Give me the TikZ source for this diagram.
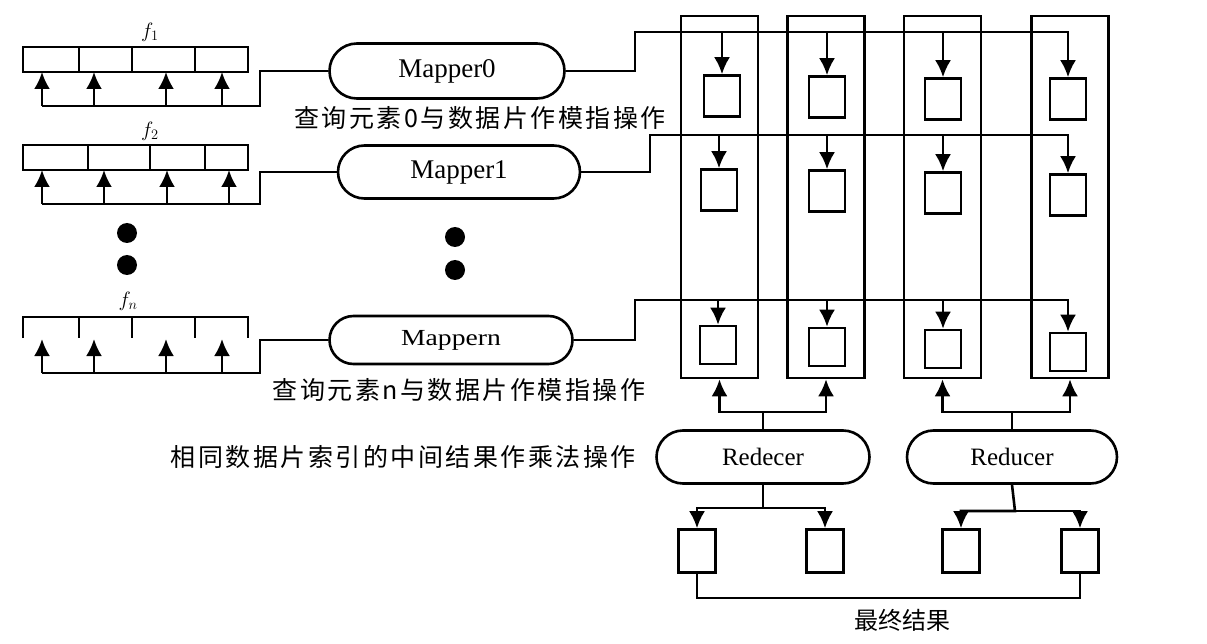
\documentclass[tikz,border=0pt]{standalone}
\usepackage{fontspec}
\setmainfont{Liberation Serif}
\newfontfamily\cjk[LetterSpace=10]{Noto Sans CJK SC}
\newfontfamily\cjkplain{Noto Sans CJK SC}
\usetikzlibrary{arrows.meta,shapes.misc,calc}
\tikzset{
  ln/.style={line width=2.6pt},
  arr/.style={line width=2.6pt,-{Latex[length=17pt,width=16pt]}},
  mapper/.style={draw,line width=2.6pt,rounded rectangle,inner sep=0pt,font=\fontsize{27}{27}\selectfont},
  colbox/.style={draw,line width=2.6pt,inner sep=0pt,minimum width=77pt,minimum height=362pt},
  cell/.style={draw,line width=2.6pt,inner sep=0pt,minimum width=36pt,minimum height=41pt},
  outcell/.style={draw,line width=2.6pt,inner sep=0pt,minimum width=37pt,minimum height=43pt},
  arrbox/.style={draw,line width=2.6pt,inner sep=0pt,minimum width=225pt,minimum height=25pt},
  cnlabel/.style={font=\cjk\fontsize{25}{25}\selectfont,inner sep=0pt},
  flabel/.style={font=\fontsize{22}{22}\selectfont,inner sep=0pt},
  dot/.style={fill=black,circle,inner sep=0pt,minimum size=20pt}
}
\begin{document}
\begin{tikzpicture}[x=1pt,y=-1pt]
\useasboundingbox (0,0) rectangle (1207,644);
% ---------- arrays ----------
\node[arrbox] (a1) at (135.5,59.5) {};
\foreach \x in {79,132,195} \draw[ln] (\x,47) -- (\x,72);
\node[flabel] (f1) at (150,32) {$f_1$};
\foreach \x in {42,94,166,222} \draw[arr] (\x,106) -- (\x,72);
\node[arrbox] (a2) at (135.5,157.5) {};
\foreach \x in {88,150,205} \draw[ln] (\x,145) -- (\x,170);
\node[flabel] (f2) at (150,131) {$f_2$};
\foreach \x in {42,104,167,229} \draw[arr] (\x,204) -- (\x,170);
% array n (open at bottom)
\draw[ln] (23,338) -- (23,317) -- (248,317) -- (248,338);
\foreach \x in {79,132,195} \draw[ln] (\x,317) -- (\x,338);
\node[flabel] (fn) at (128,301) {$f_n$};
\foreach \x in {42,94,166,222} \draw[arr] (\x,373) -- (\x,339);
% dots
\node[dot] (d1) at (127,233) {};
\node[dot] (d2) at (127,265) {};
\node[dot] (d3) at (455,237) {};
\node[dot] (d4) at (455,270) {};
% ---------- mappers ----------
\node[mapper,minimum width=235pt,minimum height=55pt] (m0) at (447,71) {Mapper0};
\node[mapper,minimum width=242pt,minimum height=53pt] (m1) at (459,172) {Mapper1};
\node[mapper,minimum width=243pt,minimum height=48pt,font=\fontsize{23}{23}\selectfont] (mn) at (451,340) {\scalebox{1.2}[1]{Mappern}};
\node[cnlabel] (l0) at (480,118) {查询元素0与数据片作模指操作};
\node[cnlabel] (ln) at (459,390) {查询元素n与数据片作模指操作};
\node[cnlabel] (l3) at (403,457) {相同数据片索引的中间结果作乘法操作};
% array -> mapper connectors
\draw[ln] (42,106) -- (260,106) |- (m0.west);
\draw[ln] (42,204) -- (260,204) |- (m1.west);
\draw[ln] (42,373) -- (260,373) |- (mn.west);
% ---------- columns ----------
\node[colbox] (c1) at (719.5,197) {};
\node[colbox] (c2) at (826,197) {};
\node[colbox] (c3) at (942.5,197) {};
\node[colbox] (c4) at (1070,197) {};
% cells
\node[cell] (b11) at (722,96) {};
\node[cell] (b12) at (827,97) {};
\node[cell] (b13) at (943,99) {};
\node[cell] (b14) at (1068,99) {};
\node[cell] (b21) at (719,190) {};
\node[cell] (b22) at (827,191) {};
\node[cell] (b23) at (943,193) {};
\node[cell] (b24) at (1068,195) {};
\node[cell,minimum height=38pt] (b31) at (718,345) {};
\node[cell,minimum height=38pt] (b32) at (827,347) {};
\node[cell,minimum height=38pt] (b33) at (943,349) {};
\node[cell,minimum height=38pt] (b34) at (1068,352) {};
% mapper -> cells
\coordinate (h0) at (635,32);
\coordinate (h1) at (650,135);
\coordinate (hn) at (635,300);
\draw[arr] (m0.east) -| (h0) -- (b14.north |- h0) -- (b14.north);
\foreach \b in {b11,b12,b13} \draw[arr] (\b.north |- h0) -- (\b.north);
\draw[arr] (m1.east) -| (h1) -- (b24.north |- h1) -- (b24.north);
\foreach \b in {b21,b22,b23} \draw[arr] (\b.north |- h1) -- (\b.north);
\draw[arr] (mn.east) -| (hn) -- (b34.north |- hn) -- (b34.north);
\foreach \b in {b31,b32,b33} \draw[arr] (\b.north |- hn) -- (\b.north);
% ---------- reducers ----------
\node[mapper,minimum width=213pt,minimum height=53pt,font=\fontsize{25}{25}\selectfont] (r1) at (763,457) {Redecer};
\node[mapper,minimum width=210pt,minimum height=53pt,font=\fontsize{25}{25}\selectfont] (r2) at (1012,457) {Reducer};
\coordinate (u1) at (763,412);
\coordinate (u2) at (1012,412);
\draw[arr] (r1.north) -- (u1) -| (c1.south);
\draw[arr] (u1) -| (c2.south);
\draw[arr] (r2.north) -- (u2) -| (c3.south);
\draw[arr] (u2) -| (c4.south);
% outputs
\node[outcell] (o1) at (697,551) {};
\node[outcell] (o2) at (825,551) {};
\node[outcell] (o3) at (961,551) {};
\node[outcell] (o4) at (1080,551) {};
\coordinate (v1) at (763,508);
\coordinate (v2) at (1015,511);
\draw[arr] (r1.south) -- (v1) -| (o1.north);
\draw[arr] (v1) -| (o2.north);
\draw[arr] (r2.south) -- (v2) -| (o3.north);
\draw[arr] (v2) -| (o4.north);
\draw[ln] (o1.south) -- ++(0,24) -| (o4.south);
\node[font=\cjkplain\fontsize{24}{24}\selectfont,inner sep=0pt] (res) at (902,620) {最终结果};
\end{tikzpicture}
\end{document}
